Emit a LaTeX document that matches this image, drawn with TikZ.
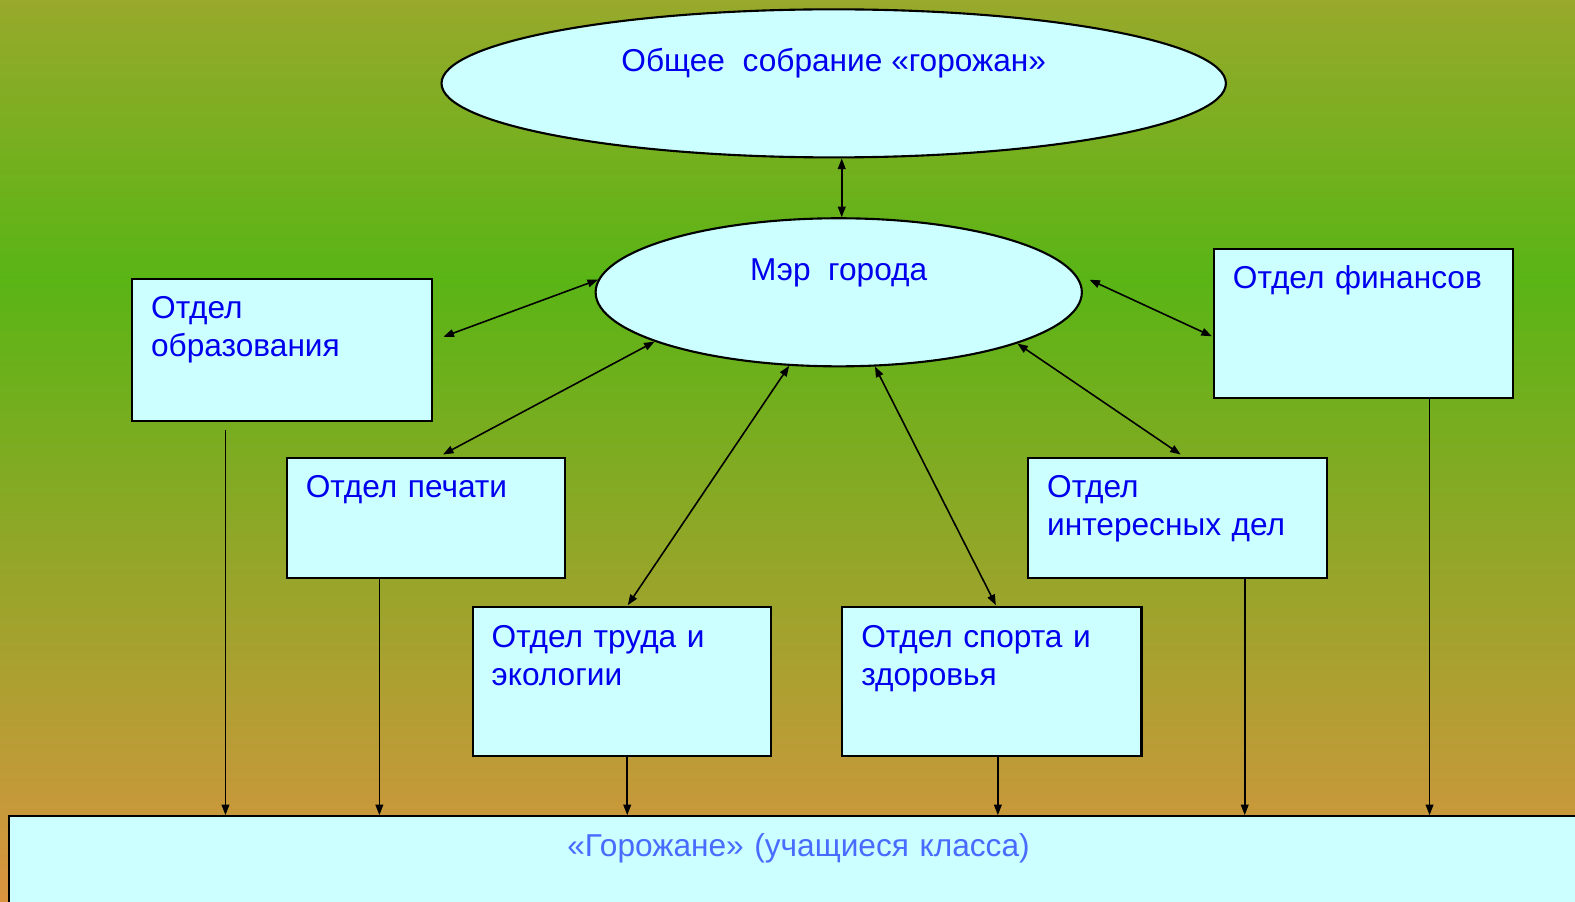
\documentclass[tikz,border=0pt]{standalone}
\usepackage{fontspec}
\setmainfont{Liberation Sans}
\usetikzlibrary{arrows.meta,shapes.geometric}

\definecolor{bgtop}{RGB}{152,169,43}
\definecolor{bggreen}{RGB}{89,181,21}
\definecolor{bgbottom}{RGB}{218,148,64}
\definecolor{boxcyan}{RGB}{204,255,255}
\definecolor{deptblue}{RGB}{0,0,238}
\definecolor{townblue}{RGB}{72,108,255}

\newcommand{\deptfont}{\fontsize{9}{10.8}\selectfont}

\tikzset{
  dept/.style 2 args={draw, line width=0.6pt, fill=boxcyan, anchor=north west,
    align=left, text=deptblue, font=\deptfont, inner xsep=0.19cm, inner ysep=0.17cm,
    text height=0.23cm, text width=#1, text depth=#2},
  oval/.style={ellipse, draw, line width=0.6pt, fill=boxcyan, text=deptblue,
    font=\deptfont, inner sep=0pt, text height=0.23cm, text depth=0.46cm},
  link/.style={{Triangle[length=3pt,width=2.2pt]}-{Triangle[length=3pt,width=2.2pt]}, line width=0.45pt},
  feed/.style={-{Triangle[length=3pt,width=2.2pt]}, line width=0.45pt}
}

\begin{document}
\begin{tikzpicture}[x=0.010045cm, y=-0.010045cm]
  \useasboundingbox (0,0) rectangle (1568,897);

  % Фон
  \shade[top color=bgtop, bottom color=bggreen] (0,0) rectangle (1568,276);
  \shade[top color=bggreen, bottom color=bgbottom] (0,275) rectangle (1568,897);

  % Собрание и мэр
  \node[oval, minimum width=7.84cm, minimum height=1.48cm] (general) at (830,83) {Общее\ \ собрание «горожан»};
  \node[oval, minimum width=4.86cm, minimum height=1.48cm] (mayor) at (835,291) {Мэр\ \ города};

  % Отделы
  \node[dept={2.62cm}{0.85cm}] (obr) at (130.5,276.5) {Отдел\\образования};
  \node[dept={2.40cm}{0.63cm}] (pech) at (284.5,454.5) {Отдел печати};
  \node[dept={2.60cm}{0.92cm}] (trud) at (469.5,603.5) {Отдел труда и\\экологии};
  \node[dept={2.61cm}{0.92cm}] (sport) at (837.5,603.5) {Отдел спорта и\\здоровья};
  \node[dept={2.61cm}{0.63cm}] (inter) at (1022.5,454.5) {Отдел\\интересных дел};
  \node[dept={2.61cm}{0.92cm}] (fin) at (1207.5,246.5) {Отдел финансов};

  % Горожане
  \node[dept={15.4cm}{1.5cm}, align=center, text=townblue] (town) at (8,811.5) {«Горожане» (учащиеся класса)};

  % Связи с мэром
  \draw[link] ([xshift=0.03cm]mayor.north |- general.south) -- ([xshift=0.03cm]mayor.north);
  \draw[link] ([shift={(10,-13)}]obr.east) -- (mayor.177);
  \draw[link] ([shift={(17,-2)}]pech.north) -- (mayor.195);
  \draw[link] ([shift={(6,-1)}]trud.north) -- (mayor.236);
  \draw[link] ([shift={(4,-1)}]sport.north) -- (mayor.296);
  \draw[link] ([shift={(3,-2)}]inter.north) -- (mayor.344);
  \draw[link] ([shift={(-1,13)}]fin.west) -- ([xshift=0.1cm]mayor.3);

  % Стрелки вниз
  \draw[feed] ([shift={(-56.5,8)}]obr.south) coordinate (o1) -- (o1 |- town.north);
  \draw[feed] ([xshift=-0.465cm]pech.south) coordinate (o2) -- (o2 |- town.north);
  \draw[feed] ([xshift=0.055cm]trud.south) coordinate (o3) -- (o3 |- town.north);
  \draw[feed] ([xshift=0.06cm]sport.south) coordinate (o4) -- (o4 |- town.north);
  \draw[feed] ([xshift=0.67cm]inter.south) coordinate (o5) -- (o5 |- town.north);
  \draw[feed] ([xshift=0.66cm]fin.south) coordinate (o6) -- (o6 |- town.north);
\end{tikzpicture}
\end{document}
